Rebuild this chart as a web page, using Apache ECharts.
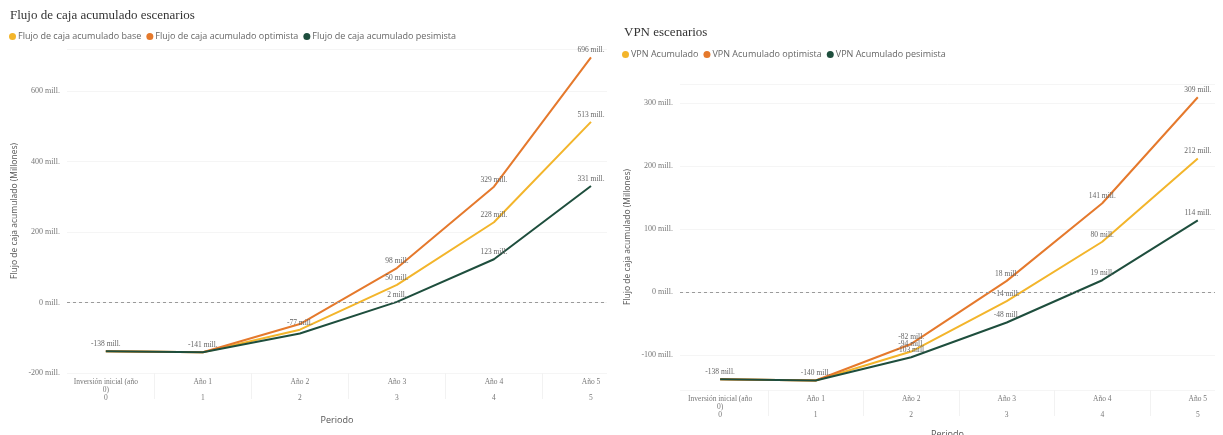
<!DOCTYPE html>
<html>
<head>
<meta charset="utf-8">
<script src="https://cdn.jsdelivr.net/npm/echarts@6/dist/echarts.min.js"></script>
<style>
  html, body { margin: 0; padding: 0; background: #fff; }
  #chart { width: 1223px; height: 435px; }
</style>
</head>
<body>
<div id="chart"></div>
<script>
// Periods and their category names
const periodos = [0, 1, 2, 3, 4, 5];
const categorias = ['Inversión inicial (año 0)', 'Año 1', 'Año 2', 'Año 3', 'Año 4', 'Año 5'];

// Accumulated cash flow per scenario (millions)
const flujoBase = [-138, -141, -77, 50, 228, 513];
const flujoOptimista = [-138, -141, -61, 98, 329, 696];
const flujoPesimista = [-138, -141, -88, 2, 123, 331];

// Accumulated NPV per scenario (millions)
const vpnBase = [-138, -140, -94, -14, 80, 212];
const vpnOptimista = [-138, -140, -82, 18, 141, 309];
const vpnPesimista = [-138, -140, -103, -48, 19, 114];

// Y-axis tick values
const flujoTicks = [-200, 0, 200, 400, 600];
const vpnTicks = [-100, 0, 100, 200, 300];

const COLORS = { base: '#F3B52B', opt: '#E5792C', pes: '#1E4E3D' };
const SERIF = '"Liberation Serif", "DejaVu Serif", serif';
const SANS = '"Open Sans", "Noto Sans", sans-serif';

function etiquetaX(v) {
  const c = categorias[v];
  let l1 = c, l2 = ' ';
  if (c.length > 22) {
    const k = c.lastIndexOf(' ', 22);
    l1 = c.slice(0, k);
    l2 = c.slice(k + 1);
  }
  return l1 + '\n' + l2 + '\n' + periodos[v];
}

function serie(name, values, color, idx, labelFrom, zeroLine) {
  const s = {
    type: 'line',
    name: name,
    xAxisIndex: idx,
    yAxisIndex: idx,
    showSymbol: true,
    symbol: 'circle',
    symbolSize: 0.01,
    lineStyle: { color: color, width: 2 },
    itemStyle: { color: color },
    emphasis: { disabled: true },
    label: {
      show: true,
      position: 'top',
      distance: 3,
      fontFamily: SERIF,
      fontSize: 7.5,
      color: '#666',
      formatter: p => p.value[1] + ' mill.'
    },
    data: values.map((v, i) => ({
      value: [periodos[i], v],
      label: { show: i >= labelFrom }
    }))
  };
  if (zeroLine) {
    s.markLine = {
      silent: true,
      symbol: 'none',
      label: { show: false },
      lineStyle: { color: '#9a9a9a', type: [3, 3], width: 1.2 },
      data: [{ yAxis: 0 }]
    };
  }
  return s;
}

function ejeX(idx, min, max, nameGap) {
  return {
    type: 'value',
    gridIndex: idx,
    min: min,
    max: max,
    name: 'Periodo',
    nameLocation: 'middle',
    nameGap: nameGap,
    nameTextStyle: { fontFamily: SANS, fontSize: 9, color: '#555' },
    axisLine: { show: false, onZero: false },
    splitLine: { show: false },
    axisTick: {
      show: true,
      customValues: [0.5, 1.5, 2.5, 3.5, 4.5],
      length: 26,
      lineStyle: { color: '#f2f2f2' }
    },
    axisLabel: {
      customValues: periodos,
      margin: 5,
      fontFamily: SERIF,
      fontSize: 7.5,
      lineHeight: 8,
      color: '#777',
      formatter: v => etiquetaX(v)
    }
  };
}

function ejeY(idx, min, max, ticks) {
  return {
    type: 'value',
    gridIndex: idx,
    min: min,
    max: max,
    name: 'Flujo de caja acumulado (Millones)',
    nameLocation: 'middle',
    nameGap: 48,
    nameTextStyle: { fontFamily: SANS, fontSize: 8.5, color: '#555' },
    axisLine: { show: false },
    axisTick: { show: false },
    splitLine: { show: true, lineStyle: { color: '#f5f5f5', width: 1 } },
    axisLabel: {
      customValues: ticks,
      margin: 7,
      fontFamily: SERIF,
      fontSize: 8,
      color: '#777',
      formatter: v => v + ' mill.'
    }
  };
}

function leyenda(left, top, items) {
  return {
    left: left, top: top,
    padding: 0,
    itemGap: 5,
    itemWidth: 7, itemHeight: 7,
    icon: 'circle',
    selectedMode: false,
    textStyle: { fontFamily: SANS, fontSize: 9, color: '#666', padding: [0, 0, 0, -3] },
    data: items
  };
}

const chart = echarts.init(document.getElementById('chart'), null, { renderer: 'canvas' });

chart.setOption({
  animation: false,
  backgroundColor: '#fff',
  title: [
    {
      text: 'Flujo de caja acumulado escenarios',
      left: 10, top: 9,
      padding: 0,
      textStyle: { fontFamily: SERIF, fontSize: 13, fontWeight: 'normal', color: '#333' }
    },
    {
      text: 'VPN escenarios',
      left: 624, top: 26,
      padding: 0,
      textStyle: { fontFamily: SERIF, fontSize: 13, fontWeight: 'normal', color: '#333' }
    }
  ],
  legend: [
    leyenda(9, 32, ['Flujo de caja acumulado base', 'Flujo de caja acumulado optimista', 'Flujo de caja acumulado pesimista']),
    leyenda(622, 50, ['VPN Acumulado', 'VPN Acumulado optimista', 'VPN Acumulado pesimista'])
  ],
  grid: [
    { left: 67, width: 540, top: 49, height: 324, outerBoundsMode: 'none' },
    { left: 680, width: 535, top: 84, height: 306, outerBoundsMode: 'none' }
  ],
  xAxis: [
    ejeX(0, -0.4, 5.165, 43),
    ejeX(1, -0.42, 5.18, 40)
  ],
  yAxis: [
    ejeY(0, -200, 720, flujoTicks),
    ejeY(1, -155, 330, vpnTicks)
  ],
  series: [
    serie('Flujo de caja acumulado base', flujoBase, COLORS.base, 0, 0, true),
    serie('Flujo de caja acumulado optimista', flujoOptimista, COLORS.opt, 0, 3, false),
    serie('Flujo de caja acumulado pesimista', flujoPesimista, COLORS.pes, 0, 3, false),
    serie('VPN Acumulado', vpnBase, COLORS.base, 1, 0, true),
    serie('VPN Acumulado optimista', vpnOptimista, COLORS.opt, 1, 2, false),
    serie('VPN Acumulado pesimista', vpnPesimista, COLORS.pes, 1, 2, false)
  ]
});
</script>
</body>
</html>
